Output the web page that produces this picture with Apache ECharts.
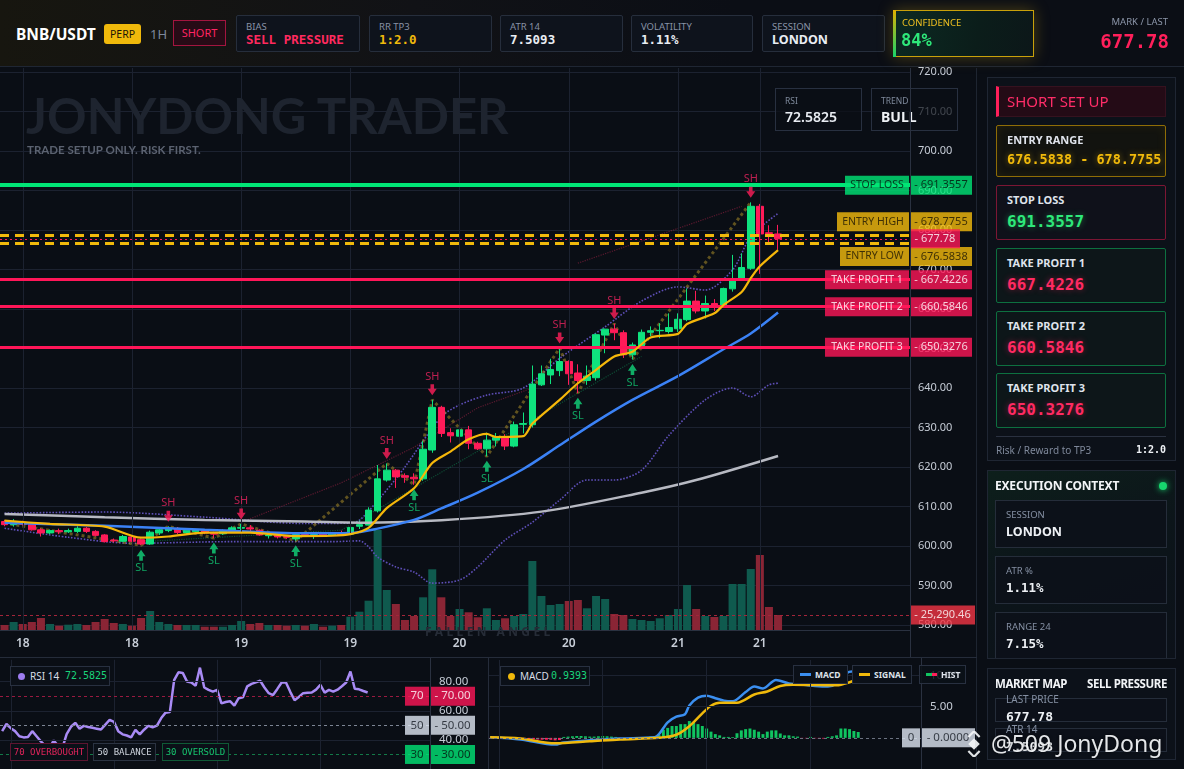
<!DOCTYPE html>
<html>
<head>
<meta charset="utf-8">
<title>BNB/USDT Short Setup</title>
<script src="https://cdn.jsdelivr.net/npm/echarts@6/dist/echarts.min.js"></script>
<style>
*{box-sizing:border-box;}
html,body{margin:0;padding:0;width:1184px;height:769px;overflow:hidden;background:#0a0e15;font-family:'Noto Sans',sans-serif;}
#chart{position:absolute;left:0;top:0;width:1184px;height:769px;z-index:1;}
.o{position:absolute;z-index:3;white-space:nowrap;}
.mono{font-family:'DejaVu Sans Mono',monospace;}
.card{position:absolute;z-index:3;top:15px;height:37px;background:#0e131c;border:1px solid #262e3c;border-radius:2px;}
.card .lb{position:absolute;left:9px;top:4px;font-size:9.5px;line-height:13px;color:#8892a6;white-space:nowrap;}
.card .vl{position:absolute;left:9px;top:16px;font-size:12.5px;line-height:16px;font-weight:bold;font-family:'DejaVu Sans Mono',monospace;color:#e9edf3;white-space:nowrap;}
.pcard{position:absolute;z-index:3;left:996px;width:170px;border:1px solid;border-radius:2px;}
.pcard .lb{position:absolute;left:10px;top:6px;font-size:11px;font-weight:bold;color:#dfe3eb;line-height:15px;white-space:nowrap;}
.pcard .vl{position:absolute;left:10px;font-family:'DejaVu Sans Mono',monospace;font-weight:bold;white-space:nowrap;}
.sub{position:absolute;z-index:3;left:995px;width:172px;border:1px solid #252d3a;background:rgba(12,17,25,0.9);}
.sub .lb{position:absolute;left:10px;top:7px;font-size:9.5px;color:#8590a3;line-height:13px;white-space:nowrap;}
.sub .vl{position:absolute;left:10px;top:22px;font-size:12.5px;font-weight:bold;color:#eef1f5;line-height:17px;white-space:nowrap;}
.lg{position:absolute;z-index:3;border:1px solid #283040;background:#0b1018;height:20px;}
.ln{position:absolute;z-index:3;background:#232a37;}
</style>
</head>
<body>
<div id="chart"></div>

<!-- top bar -->
<div class="o" style="left:0;top:0;width:1184px;height:67px;background:linear-gradient(90deg,#17160f 0%,#111216 35%,#0b0e15 62%,#0b0e15 100%);border-bottom:1px solid #1f2633;z-index:2;"></div>
<div class="o" style="left:16px;top:23px;font-size:15.5px;line-height:22px;font-weight:bold;color:#ffffff;">BNB/USDT</div>
<div class="o" style="left:104px;top:24px;width:37px;height:20px;background:#f0b90b;border-radius:3px;color:#1c1405;font-size:10.5px;line-height:20px;text-align:center;">PERP</div>
<div class="o" style="left:150px;top:24px;font-size:13px;line-height:20px;color:#7d889b;">1H</div>
<div class="o" style="left:173px;top:20px;width:53px;height:26px;border:1px solid #a3153f;background:#270b16;color:#ff2563;font-size:11px;line-height:24px;text-align:center;">SHORT</div>

<div class="card" style="left:236px;width:124px;"><div class="lb">BIAS</div><div class="vl" style="color:#ff2a5f;">SELL PRESSURE</div></div>
<div class="card" style="left:369px;width:123px;"><div class="lb">RR TP3</div><div class="vl" style="color:#f0b90b;">1:2.0</div></div>
<div class="card" style="left:500px;width:123px;"><div class="lb">ATR 14</div><div class="vl">7.5093</div></div>
<div class="card" style="left:631px;width:122px;"><div class="lb">VOLATILITY</div><div class="vl">1.11%</div></div>
<div class="card" style="left:762px;width:123px;"><div class="lb">SESSION</div><div class="vl" style="font-family:'Noto Sans',sans-serif;">LONDON</div></div>

<div class="o" style="left:893px;top:10px;width:141px;height:47px;border:1px solid #c9a10a;background:linear-gradient(100deg,#0c2a22 0%,#0b1d1a 60%,#0c1719 100%);box-shadow:0 0 14px rgba(200,160,20,0.35);"></div>
<div class="o" style="left:893px;top:10px;width:3px;height:47px;background:linear-gradient(180deg,#e0b000,#18d46a);"></div>
<div class="o" style="left:902px;top:16px;font-size:9.5px;line-height:13px;color:#f0c020;">CONFIDENCE</div>
<div class="o mono" style="left:901px;top:29px;font-size:17px;line-height:22px;font-weight:bold;color:#2ee87a;">84%</div>

<div class="o" style="right:16px;top:15px;font-size:9.5px;line-height:13px;color:#8b95a8;text-align:right;">MARK / LAST</div>
<div class="o mono" style="right:15px;top:29px;font-size:19px;line-height:24px;font-weight:bold;color:#ff1f5a;text-align:right;">677.78</div>

<!-- main overlays -->
<div class="o" style="left:26px;top:85px;font-family:Lato,sans-serif;font-weight:bold;font-size:49px;line-height:60px;color:#1e242f;z-index:2;">JONYDONG TRADER</div>
<div class="o" style="left:27px;top:142px;font-family:Lato,sans-serif;font-weight:bold;font-size:11.5px;line-height:16px;color:#5b6270;z-index:2;">TRADE SETUP ONLY. RISK FIRST.</div>

<div class="o" style="left:775px;top:88px;width:87px;height:43px;background:rgba(11,15,22,0.75);border:1px solid #283040;">
  <div style="position:absolute;left:9px;top:6px;font-size:8.5px;line-height:12px;color:#7f8a9c;">RSI</div>
  <div style="position:absolute;left:9px;top:18px;font-size:14px;line-height:20px;color:#e8ecf2;font-weight:600;">72.5825</div>
</div>
<div class="o" style="left:871px;top:88px;width:87px;height:43px;background:rgba(11,15,22,0.72);border:1px solid #283040;">
  <div style="position:absolute;left:9px;top:6px;font-size:8.5px;line-height:12px;color:#7f8a9c;">TREND</div>
  <div style="position:absolute;left:9px;top:18px;font-size:14px;line-height:20px;color:#eef1f5;font-weight:bold;">BULL</div>
</div>

<div class="o" style="left:425px;top:624px;font-size:12px;line-height:16px;font-weight:bold;letter-spacing:3.4px;color:#262c37;z-index:2;">FALLEN ANGEL</div>

<!-- separators -->
<div class="ln" style="left:910px;top:68px;width:1px;height:589px;background:#2a3140;"></div>
<div class="ln" style="left:976px;top:68px;width:1px;height:701px;background:#1e2531;"></div>
<div class="ln" style="left:0;top:657px;width:977px;height:1px;background:#252c3a;"></div>
<div class="ln" style="left:488px;top:657px;width:1px;height:112px;background:#252c3a;"></div>
<div class="ln" style="left:430px;top:658px;width:1px;height:111px;background:#2a3140;"></div>
<div class="ln" style="left:921px;top:658px;width:1px;height:111px;background:#2a3140;"></div>

<!-- RSI legends -->
<div class="lg" style="left:10px;top:666px;width:100px;">
  <div style="position:absolute;left:7px;top:6px;width:7px;height:7px;border-radius:50%;background:#9d7cf0;"></div>
  <div style="position:absolute;left:19px;top:2px;font-size:10px;line-height:14px;color:#d8dde6;">RSI 14</div>
  <div class="mono" style="position:absolute;left:54px;top:2px;font-size:10px;line-height:14px;color:#19d37a;">72.5825</div>
</div>
<div class="lg mono" style="left:10px;top:743px;width:78px;height:18px;border-color:#5c1530;font-size:9px;line-height:16px;color:#e0245a;text-align:center;">70 OVERBOUGHT</div>
<div class="lg mono" style="left:93px;top:743px;width:63px;height:18px;border-color:#2b3342;font-size:9px;line-height:16px;color:#cfd5de;text-align:center;">50 BALANCE</div>
<div class="lg mono" style="left:162px;top:743px;width:67px;height:18px;border-color:#0f5a36;font-size:9px;line-height:16px;color:#16c46e;text-align:center;">30 OVERSOLD</div>

<!-- MACD legends -->
<div class="lg" style="left:500px;top:666px;width:90px;">
  <div style="position:absolute;left:7px;top:6px;width:7px;height:7px;border-radius:50%;background:#f0b90b;"></div>
  <div style="position:absolute;left:19px;top:2px;font-size:10px;line-height:14px;color:#d8dde6;">MACD</div>
  <div class="mono" style="position:absolute;left:50px;top:2px;font-size:10px;line-height:14px;color:#19d37a;">0.9393</div>
</div>
<div class="lg" style="left:793px;top:665px;width:55px;height:19px;">
  <div style="position:absolute;left:6px;top:7px;width:11px;height:3px;background:#3b8ff0;"></div>
  <div style="position:absolute;left:21px;top:2px;font-size:8.5px;line-height:13px;font-weight:bold;color:#dfe4ec;">MACD</div>
</div>
<div class="lg" style="left:852px;top:665px;width:60px;height:19px;">
  <div style="position:absolute;left:6px;top:7px;width:11px;height:3px;background:#f0b90b;"></div>
  <div style="position:absolute;left:21px;top:2px;font-size:8.5px;line-height:13px;font-weight:bold;color:#dfe4ec;">SIGNAL</div>
</div>
<div class="lg" style="left:919px;top:665px;width:47px;height:19px;background:rgba(11,16,24,0.85);">
  <div style="position:absolute;left:6px;top:7px;width:6px;height:3px;background:#10c460;"></div>
  <div style="position:absolute;left:12px;top:7px;width:5px;height:3px;background:#ff1f5a;"></div>
  <div style="position:absolute;left:21px;top:2px;font-size:8.5px;line-height:13px;font-weight:bold;color:#dfe4ec;">HIST</div>
</div>

<!-- right panel: short set up -->
<div class="o" style="left:987px;top:77px;width:189px;height:384px;border:1px solid #1f2633;background:#0c1119;z-index:2;"></div>
<div class="o" style="left:996px;top:86px;width:170px;height:31px;background:#240b16;border:1px solid #36121f;border-left:3px solid #ff1f5a;"></div>
<div class="o" style="left:1007px;top:90px;font-size:15px;line-height:22px;color:#ff2d68;">SHORT SET UP</div>

<div class="pcard" style="top:125px;height:52px;border-color:#8f6d06;background:#12130f;box-shadow:inset 0 0 10px rgba(240,185,11,0.08);">
  <div class="lb">ENTRY RANGE</div>
  <div class="vl" style="top:24px;font-size:13.5px;line-height:18px;color:#f0b90b;text-shadow:0 0 6px rgba(240,185,11,0.45);">676.5838 - 678.7755</div>
</div>
<div class="pcard" style="top:185px;height:55px;border-color:#7c1634;background:#0f111a;">
  <div class="lb">STOP LOSS</div>
  <div class="vl" style="top:26px;font-size:16px;line-height:20px;color:#2ee87a;text-shadow:0 0 6px rgba(46,232,122,0.45);">691.3557</div>
</div>
<div class="pcard" style="top:248px;height:55px;border-color:#0d7040;background:#0d1619;">
  <div class="lb">TAKE PROFIT 1</div>
  <div class="vl" style="top:26px;font-size:16px;line-height:20px;color:#ff2a62;text-shadow:0 0 6px rgba(255,30,90,0.45);">667.4226</div>
</div>
<div class="pcard" style="top:311px;height:55px;border-color:#0d7040;background:#0d1619;">
  <div class="lb">TAKE PROFIT 2</div>
  <div class="vl" style="top:26px;font-size:16px;line-height:20px;color:#ff2a62;text-shadow:0 0 6px rgba(255,30,90,0.45);">660.5846</div>
</div>
<div class="pcard" style="top:373px;height:55px;border-color:#0d7040;background:#0d1619;">
  <div class="lb">TAKE PROFIT 3</div>
  <div class="vl" style="top:26px;font-size:16px;line-height:20px;color:#ff2a62;text-shadow:0 0 6px rgba(255,30,90,0.45);">650.3276</div>
</div>
<div class="o" style="left:996px;top:436px;width:170px;height:1px;background:#2a3140;"></div>
<div class="o" style="left:996px;top:443px;font-size:10px;line-height:14px;color:#7f899b;">Risk / Reward to TP3</div>
<div class="o mono" style="right:18px;top:443px;font-size:10px;line-height:14px;font-weight:bold;color:#eef1f5;">1:2.0</div>

<!-- execution context -->
<div class="o" style="left:987px;top:470px;width:189px;height:189px;border:1px solid #1f2633;background:linear-gradient(160deg,#0d1f1b 0%,#0c151a 45%,#0c1119 100%);z-index:2;overflow:hidden;"></div>
<div class="o" style="left:995px;top:477px;font-size:12px;line-height:18px;font-weight:bold;color:#f2f4f7;letter-spacing:-0.2px;">EXECUTION CONTEXT</div>
<div class="o" style="left:1159px;top:482px;width:8px;height:8px;border-radius:50%;background:#17d66e;box-shadow:0 0 6px #17d66e;"></div>
<div class="sub" style="top:500px;height:48px;"><div class="lb">SESSION</div><div class="vl">LONDON</div></div>
<div class="sub" style="top:556px;height:48px;"><div class="lb">ATR %</div><div class="vl mono">1.11%</div></div>
<div class="sub" style="top:612px;height:46px;border-bottom:none;"><div class="lb">RANGE 24</div><div class="vl mono">7.15%</div></div>

<!-- market map -->
<div class="o" style="left:987px;top:668px;width:189px;height:92px;border:1px solid #1f2633;background:#0c1119;z-index:2;"></div>
<div class="o" style="left:995px;top:675px;font-size:11.5px;line-height:18px;font-weight:bold;color:#f2f4f7;letter-spacing:-0.4px;">MARKET MAP</div>
<div class="o" style="right:17px;top:675px;font-size:11.5px;line-height:18px;font-weight:bold;color:#f2f4f7;letter-spacing:-0.4px;">SELL PRESSURE</div>
<div class="sub" style="top:698px;height:24px;"><div class="lb" style="top:-6px;font-size:10px;">LAST PRICE</div><div class="vl mono" style="top:9px;font-size:13px;line-height:17px;">677.78</div></div>
<div class="sub" style="top:728px;height:24px;"><div class="lb" style="top:-6px;font-size:10px;">ATR 14</div><div class="vl mono" style="top:9px;font-size:13px;line-height:17px;">7.5093</div></div>

<!-- watermark -->
<svg class="o" style="left:961px;top:731px;z-index:4;" width="26" height="26" viewBox="0 0 26 26">
  <g fill="none" stroke="#f4f6f8" stroke-width="2.2" opacity="0.92" transform="rotate(45 13 13)">
    <rect x="10" y="10" width="6" height="6" fill="#f4f6f8"/>
    <path d="M4 12 V4 H12"/>
    <path d="M22 14 V22 H14"/>
  </g>
</svg>
<div class="o" style="left:991px;top:727px;font-size:23px;line-height:32px;color:rgba(245,247,250,0.93);text-shadow:0 0 3px rgba(0,0,0,0.7);z-index:4;">@509 JonyDong</div>

<script>
// ---------------- data ----------------
const opens = [606.2,605.4,606.0,605.5,604.1,603.3,603.9,603.6,603.7,604.5,
 603.7,602.8,601.5,601.2,602.3,601.6,600.5,603.3,603.9,604.4,
 603.3,603.6,603.9,603.3,603.1,603.9,604.5,604.6,604.0,602.6,
 602.7,602.4,601.8,602.9,602.6,603.0,602.7,603.3,603.0,605.0,
 605.3,608.9,616.7,619.2,617.8,617.4,617.0,624.3,635.1,628.7,
 627.8,629.4,626.0,624.6,626.8,627.6,625.3,630.8,630.7,640.8,
 643.3,644.4,646.7,643.8,641.9,642.6,653.4,654.9,654.0,648.4,
 650.5,654.1,654.5,654.3,655.0,657.3,662.0,659.5,661.4,660.8,
 665.1,667.3,670.3,686.0,679.3,679.0];
const highs = [606.6,606.8,606.4,605.8,604.5,604.2,604.4,604.4,605.0,604.8,
 604.0,603.0,601.9,602.8,602.6,601.9,603.9,604.4,605.0,604.8,
 604.0,604.3,604.1,603.6,604.2,605.0,605.6,605.3,604.2,603.4,
 602.9,602.7,603.0,603.3,603.6,603.3,603.4,603.9,605.0,606.4,
 609.8,620.5,620.9,619.5,618.4,618.4,626.6,637.0,635.5,629.8,
 630.7,630.4,626.4,628.7,628.6,628.3,631.5,633.8,645.7,645.7,
 647.4,650.1,647.0,646.0,645.7,653.8,655.0,656.3,654.6,651.5,
 654.8,655.6,656.4,658.9,658.9,665.2,664.6,663.4,662.5,665.4,
 673.7,674.1,687.0,686.6,681.2,681.3];
const lows = [605.0,604.9,605.2,603.9,602.4,603.0,603.0,603.3,603.3,603.3,
 602.4,600.9,600.9,601.0,601.0,600.2,600.3,602.8,603.5,603.0,
 602.8,603.2,603.0,602.0,602.8,603.6,603.4,603.3,602.6,601.9,
 601.9,601.8,601.3,602.3,601.8,602.6,602.5,602.6,602.8,604.3,
 605.2,608.5,616.3,614.7,616.0,615.5,616.5,623.6,627.6,626.2,
 627.2,624.5,624.3,622.7,625.2,624.3,625.0,628.5,630.0,640.5,
 641.0,643.0,640.8,638.7,640.8,641.9,648.8,652.1,647.6,647.2,
 650.0,653.1,652.6,653.8,654.2,656.9,658.9,657.6,659.5,660.6,
 664.4,667.1,669.9,668.9,676.2,675.0];
const closes = [605.4,606.0,605.5,604.1,603.3,603.9,603.6,603.9,604.5,603.7,
 602.7,601.1,601.3,602.4,601.2,600.5,603.5,604.1,604.6,603.4,
 604.0,604.1,603.3,603.0,603.9,604.6,604.7,604.3,602.8,602.8,
 602.3,602.2,602.9,602.6,602.9,602.8,603.0,602.9,604.7,605.4,
 609.1,617.0,619.2,617.5,617.4,617.0,624.5,635.1,628.5,627.9,
 629.4,626.0,624.6,626.8,627.5,625.3,630.7,631.0,641.0,643.6,
 644.7,646.7,643.6,641.9,643.0,653.5,654.9,654.0,648.4,650.9,
 654.1,654.5,654.6,655.3,657.4,662.0,659.5,661.4,660.4,665.2,
 667.6,670.5,686.0,679.0,679.1,677.78];
const volumes = [8430,13490,10120,13490,20230,10120,7250,8940,10120,8430,
 13490,18550,11800,10120,7250,20230,32030,13490,10120,8430,
 8430,8430,5560,5560,5560,8430,15170,10120,11800,8430,
 8430,7250,8430,7250,10120,5560,7250,8430,22420,30850,
 49400,168600,67440,43840,16860,23600,55130,102340,55130,23600,
 35410,29840,21410,36590,16860,19730,23600,26980,116330,57320,
 42150,43840,48890,50580,36590,57320,52270,26980,25290,18550,
 16860,15170,19730,25290,35410,75870,35410,23600,21920,23600,
 77560,77560,102850,126450,38780,25290.46];
const rsi14 = [46.0,50.9,48.0,46.0,42.5,41.7,42.0,46.0,42.5,39.0,
 36.0,34.3,39.6,36.0,34.3,44.0,49.0,51.7,47.7,49.6,
 48.8,48.3,47.7,47.1,50.5,53.8,52.4,46.0,43.8,43.0,
 41.7,46.9,43.8,47.0,49.6,48.7,49.8,55.0,58.7,59.1,
 81.0,86.4,86.0,80.0,79.4,77.2,89.6,76.0,74.3,73.1,
 74.3,65.1,66.0,66.6,63.6,68.6,69.2,76.8,78.5,79.5,
 80.6,76.0,72.1,70.8,75.0,79.4,79.4,73.0,67.2,69.5,
 72.1,72.3,72.5,74.5,77.8,72.5,74.3,73.1,74.5,76.8,
 79.4,87.0,75.1,74.7,73.6,72.58];
const macdHist = [-0.05,-0.08,-0.1,-0.12,-0.15,-0.15,-0.18,-0.2,-0.2,-0.22,
 -0.25,-0.28,-0.3,-0.3,-0.32,-0.4,-0.35,0.15,0.2,0.25,
 0.3,0.3,0.25,0.2,0.2,0.25,0.3,0.25,0.2,0.15,
 -0.05,-0.06,-0.08,-0.05,0.1,0.12,0.15,0.2,0.25,0.45,
 1.3,1.6,1.9,1.9,2.2,2.2,2.7,2.5,2.2,1.9,
 1.5,1.0,0.6,0.4,0.15,0.15,0.12,0.74,1.2,1.4,
 1.5,1.3,1.0,0.6,1.0,1.2,1.2,0.7,0.4,0.4,
 0.25,0.2,-0.05,-0.07,0.15,-0.07,-0.15,-0.12,0.15,0.25,
 0.4,1.5,1.5,1.4,1.1,0.9393];
const macdLine = [[0,0.1],[7,-0.25],[15,-1.08],[17,-0.74],[23,-0.4],[30,-0.1],[38,0.1],[39,0.6],[41,2.5],[43,3.4],[45,3.8],[46,5.2],[48,6.47],[50,6.76],[52,6.37],[54,5.98],[56,5.88],[59,7.35],[61,8.24],[63,7.94],[66,9.3],[69,8.73],[73,8.48],[75,8.33],[78,8.24],[80,8.73],[82,10.3],[84,10.7],[85,10.5]];
const signalLine = [[0,0.1],[7,-0.1],[15,-0.88],[23,-0.56],[30,-0.25],[39,0.0],[43,0.5],[46,1.86],[49,3.92],[51,5.15],[53,5.64],[57,5.64],[61,6.96],[64,7.45],[67,8.33],[70,8.53],[76,8.48],[80,8.43],[83,8.92],[85,9.5]];
const emaFast = [[0,606.4],[5,605.6],[11,604.9],[15,602.1],[18,602.4],[22,603.4],[27,603.4],[32,602.5],[36,602.6],[38,603.0],[40,604.6],[42,609.6],[45,614.6],[47,621.0],[49,623.9],[51,627.0],[53,628.4],[54,627.6],[57,627.8],[58,631.0],[61,637.0],[63,641.2],[65,644.6],[67,648.0],[69,649.2],[71,652.8],[74,653.7],[75,656.2],[78,658.9],[79,661.0],[81,664.3],[82,667.8],[83,670.8],[85,674.9]];
const emaMid = [[0,605.9],[11,605.1],[22,604.1],[33,603.2],[38,603.3],[41,604.4],[45,606.6],[48,609.5],[52,613.5],[57,619.5],[61,625.5],[65,631.5],[69,637.0],[74,643.0],[79,649.8],[82,653.8],[85,659.1]];
const ema200 = [[0,608.1],[11,607.3],[22,606.6],[33,606.2],[40,605.9],[48,606.5],[59,608.7],[70,613.5],[76,616.7],[85,622.8]];
const bbUpper = [[0,608.3],[11,608.6],[22,607.3],[33,605.7],[38,605.8],[39,606.5],[41,611.5],[43,617.0],[44,620.0],[48,632.7],[50,635.7],[53,638.2],[57,640.0],[61,647.5],[66,655.5],[70,662.0],[74,665.6],[77,664.8],[80,669.9],[82,678.3],[85,684.2]];
const bbLower = [[0,604.5],[7,602.2],[14,600.7],[25,601.1],[36,601.1],[39,601.3],[40,599.8],[41,597.2],[43,594.7],[45,593.4],[47,590.6],[50,591.4],[52,594.7],[55,601.5],[58,606.0],[61,611.6],[64,616.7],[67,616.7],[70,619.2],[73,628.0],[77,637.0],[80,640.0],[82,637.8],[84,640.8],[85,641.2]];
const zigzag = [[0,605.8],[15,600.2],[18,605.0],[23,602.0],[26,605.6],[32,601.3],[42,620.9],[45,615.5],[47,637.0],[53,622.7],[61,650.1],[63,638.7],[67,656.3],[69,647.2],[82,687.0]];
const channelHighA = [[26,606.0],[37,616.0],[45,625.0],[52,635.0],[58,640.0]];
const channelHighB = [[63,671.6],[81,686.0]];
const channelLow = [[16,601.2],[37,604.0],[70,648.0]];
const swingHighIdx = [18,26,42,47,61,67,82];
const swingLowIdx = [15,23,32,45,53,63,69];
const xTickIdx = [2,14,26,38,50,62,74,83];
const xTickText = ['18','18','19','19','20','20','21','21'];
const subGridIdx = [2,26,50,74];
const stopLoss = 691.3557, entryHigh = 678.7755, entryLow = 676.5838;
const tp1 = 667.4226, tp2 = 660.5846, tp3 = 650.3276;
const lastPrice = 677.78, lastVolume = 25290.46;
const rsiGridVals = [40,60,80];
const macdGridVals = [5,10];

// ---------------- chart ----------------
const SLOTS = 100;
const categories = [];
for (let i = 0; i < SLOTS; i++) {
  const h = i - 2 + 18 * 24;
  categories.push(Math.floor(h / 24) + ' ' + String(h % 24).padStart(2, '0') + ':00');
}
const GRIDC = '#1c2230';
const UP = '#0fe27e', DN = '#ff1b58';
const FONT = 'Noto Sans';

const tagFont = {fontFamily: FONT, fontSize: 11, height: 19, lineHeight: 19, align: 'center'};
function tok(bg, fg, w, fs) { return Object.assign({}, tagFont, {backgroundColor: bg, color: fg, width: w}, fs ? {fontSize: fs} : {}); }

const catAxis = (g) => ({type: 'category', gridIndex: g, data: categories, boundaryGap: true,
  axisLine: {show: false}, axisTick: {show: false}, axisLabel: {show: false}, splitLine: {show: false}});
const unitAxis = (g) => ({type: 'value', gridIndex: g, min: 0, max: 1, show: false});

const candleData = opens.map((o, i) => [o, closes[i], lows[i], highs[i]]);
const volData = volumes.map((v, i) => ({value: v, itemStyle: {color: closes[i] >= opens[i] ? '#0f5a4e' : '#8a2535'}}));
const histData = macdHist.map(v => ({value: v, itemStyle: {color: v >= 0 ? '#10c460' : '#ff1f5a'}}));

const downArrow = 'path://M3,0 L7,0 L7,4 L10,4 L5,10 L0,4 L3,4 Z';
const upArrow = 'path://M5,0 L10,6 L7,6 L7,10 L3,10 L3,6 L0,6 Z';

function lineSeries(data, xi, yi, style, smooth, z) {
  return {type: 'line', xAxisIndex: xi, yAxisIndex: yi, data: data, symbol: 'none', silent: true,
    smooth: smooth, lineStyle: style, z: z || 4};
}
function helper(xi, yi, y0, lines, z) {
  return {type: 'line', xAxisIndex: xi, yAxisIndex: yi, data: [[0, y0]], symbol: 'none', silent: true,
    lineStyle: {opacity: 0}, z: z || 0,
    markLine: {symbol: ['none', 'none'], silent: true, animation: false, label: {show: false}, data: lines}};
}
function tagSeries(xi, yi, data, rich) {
  return {type: 'scatter', xAxisIndex: xi, yAxisIndex: yi, symbol: 'rect', symbolSize: 1, clip: false, silent: true,
    itemStyle: {color: 'rgba(0,0,0,0)'}, z: 10, zlevel: 1,
    label: {show: true, position: 'inside', textBorderWidth: 0, rich: rich}, data: data};
}

const option = {
  animation: false,
  backgroundColor: 'transparent',
  grid: [
    {left: 0, right: 274, top: 68, bottom: 139},
    {left: 0, right: 274, top: 72, bottom: 144},
    {left: 0, right: 274, top: 510, bottom: 139},
    {left: 0, width: 430, top: 659.8, height: 117.6},
    {left: 488, width: 433, top: 660, height: 119}
  ],
  xAxis: [
    {type: 'category', gridIndex: 0, data: categories, boundaryGap: true,
      axisLine: {show: true, lineStyle: {color: '#2a3140'}}, axisTick: {show: false}, splitLine: {show: false},
      axisLabel: {show: true, color: '#c8ced8', fontSize: 12, fontWeight: 600, fontFamily: FONT, margin: 8,
        interval: (idx) => xTickIdx.indexOf(idx) >= 0,
        formatter: (v, idx) => { const k = xTickIdx.indexOf(idx); return k >= 0 ? xTickText[k] : ''; }}},
    catAxis(1), unitAxis(1),
    catAxis(2), unitAxis(2),
    catAxis(3), unitAxis(3),
    catAxis(4), unitAxis(4)
  ],
  yAxis: [
    {type: 'value', gridIndex: 0, min: 0, max: 1, show: false},
    {type: 'value', gridIndex: 1, position: 'right', min: 580, max: 720, interval: 10,
      axisLine: {show: false}, axisTick: {show: false},
      axisLabel: {color: '#c6ccd6', fontSize: 11, fontFamily: FONT, margin: 8, formatter: v => v.toFixed(2)},
      splitLine: {show: true, lineStyle: {color: GRIDC, width: 1}}},
    {type: 'value', gridIndex: 2, min: 0, max: 202300, show: false},
    {type: 'value', gridIndex: 3, position: 'right', min: 20, max: 95, interval: 10,
      axisLine: {show: false}, axisTick: {show: false}, splitLine: {show: false},
      axisLabel: {color: '#c6ccd6', fontSize: 11.5, fontFamily: FONT, margin: 9, showMaxLabel: false,
        formatter: v => rsiGridVals.indexOf(v) >= 0 ? v.toFixed(2) : ''}},
    {type: 'value', gridIndex: 4, position: 'right', min: -5, max: 12.5, interval: 5,
      axisLine: {show: false}, axisTick: {show: false}, splitLine: {show: false},
      axisLabel: {color: '#c6ccd6', fontSize: 11.5, fontFamily: FONT, margin: 9, showMaxLabel: false,
        formatter: v => macdGridVals.indexOf(v) >= 0 ? v.toFixed(2) : ''}}
  ],
  series: [
    helper(0, 0, 0, xTickIdx.map(i => ({xAxis: i, lineStyle: {color: GRIDC, width: 1, type: 'solid'}})), 0),
    {type: 'bar', xAxisIndex: 3, yAxisIndex: 2, data: volData, barWidth: '88%', silent: true, z: 2,
      markLine: {symbol: ['none', 'none'], silent: true, animation: false, label: {show: false},
        data: [{yAxis: lastVolume, lineStyle: {color: '#a3253a', width: 1, type: [3, 3]}}]}},
    helper(1, 1, 600, [
      {yAxis: stopLoss, lineStyle: {color: '#00e676', width: 4, type: 'solid'}},
      {yAxis: entryHigh, lineStyle: {color: '#f0b90b', width: 3, type: [9, 6]}},
      {yAxis: entryLow, lineStyle: {color: '#f0b90b', width: 3, type: [9, 6]}},
      {yAxis: lastPrice, lineStyle: {color: '#ff1658', width: 1, type: [2, 3]}},
      {yAxis: tp1, lineStyle: {color: '#ff1658', width: 3, type: 'solid'}},
      {yAxis: tp2, lineStyle: {color: '#ff1658', width: 3, type: 'solid'}},
      {yAxis: tp3, lineStyle: {color: '#ff1658', width: 3, type: 'solid'}}
    ], 1),
    {type: 'candlestick', xAxisIndex: 1, yAxisIndex: 1, data: candleData, barWidth: '78%', silent: true, z: 3,
      itemStyle: {color: UP, color0: DN, borderColor: UP, borderColor0: DN, borderWidth: 1}},
    lineSeries(channelHighA, 1, 1, {color: 'rgba(190,40,80,0.45)', width: 1.2, type: 'dotted'}, false, 2),
    lineSeries(channelHighB, 1, 1, {color: 'rgba(190,40,80,0.45)', width: 1.2, type: 'dotted'}, false, 2),
    lineSeries(channelLow, 1, 1, {color: 'rgba(20,190,110,0.35)', width: 1.2, type: 'dotted'}, false, 2),
    lineSeries(bbUpper, 1, 1, {color: '#5e4fb8', width: 1.6, type: 'dotted'}, 0.3, 2),
    lineSeries(bbLower, 1, 1, {color: '#5e4fb8', width: 1.6, type: 'dotted'}, 0.3, 2),
    lineSeries(zigzag, 1, 1, {color: 'rgba(170,140,40,0.55)', width: 3, type: 'dotted'}, false, 2),
    lineSeries(ema200, 1, 1, {color: '#b7b9c2', width: 2.5}, 0.3, 4),
    lineSeries(emaMid, 1, 1, {color: '#3b82f6', width: 2.5}, 0.3, 4),
    lineSeries(emaFast, 1, 1, {color: '#f5b70a', width: 2.2}, 0.25, 5),
    {type: 'scatter', xAxisIndex: 1, yAxisIndex: 1, silent: true, clip: false, z: 6,
      data: swingHighIdx.map(i => [i, highs[i]]), symbol: downArrow, symbolSize: [9, 11], symbolOffset: [0, -10],
      itemStyle: {color: '#ff1f5a'},
      label: {show: true, position: 'top', distance: 2, formatter: 'SH', color: '#e8245f', fontSize: 11, fontFamily: FONT}},
    {type: 'scatter', xAxisIndex: 1, yAxisIndex: 1, silent: true, clip: false, z: 6,
      data: swingLowIdx.map(i => [i, lows[i]]), symbol: upArrow, symbolSize: [9, 11], symbolOffset: [0, 10],
      itemStyle: {color: '#12d67a'},
      label: {show: true, position: 'bottom', distance: 2, formatter: 'SL', color: '#12c873', fontSize: 11, fontFamily: FONT}},
    tagSeries(2, 1, [
      {value: [1, stopLoss], label: {formatter: '{sln|STOP LOSS}{g|}{slv|- ' + stopLoss.toFixed(4) + '}', offset: [-1.5, 0]}},
      {value: [1, entryHigh], label: {formatter: '{ehn|ENTRY HIGH}{g|}{ev|- ' + entryHigh.toFixed(4) + '}', offset: [-5.5, -13]}},
      {value: [1, entryLow], label: {formatter: '{eln|ENTRY LOW}{g|}{ev|- ' + entryLow.toFixed(4) + '}', offset: [-4, 13]}},
      {value: [1, lastPrice], label: {formatter: '{lp|- ' + lastPrice.toFixed(2) + '}', offset: [25, 0]}},
      {value: [1, tp1], label: {formatter: '{tpn|TAKE PROFIT 1}{g|}{tpv|- ' + tp1.toFixed(4) + '}', offset: [-11.5, 0]}},
      {value: [1, tp2], label: {formatter: '{tpn|TAKE PROFIT 2}{g|}{tpv|- ' + tp2.toFixed(4) + '}', offset: [-11.5, 0]}},
      {value: [1, tp3], label: {formatter: '{tpn|TAKE PROFIT 3}{g|}{tpv|- ' + tp3.toFixed(4) + '}', offset: [-11.5, 0]}}
    ], {
      sln: tok('#00e676', '#05140c', 64, 10.5), slv: tok('#00e676', '#05140c', 62),
      ehn: tok('#f5bd0c', '#1b1404', 72, 10.5), eln: tok('#f5bd0c', '#1b1404', 69, 10.5), ev: tok('#f5bd0c', '#1b1404', 62),
      tpn: tok('#ff1658', '#ffffff', 84, 10.5), tpv: tok('#ff1658', '#ffffff', 62),
      lp: tok('#ff1658', '#ffffff', 50), g: {width: 1, height: 19}
    }),
    tagSeries(4, 2, [
      {value: [1, lastVolume], label: {formatter: '{vt|- ' + lastVolume.toLocaleString('en-US', {minimumFractionDigits: 2}) + '}', offset: [32.5, 0]}}
    ], {vt: tok('#f23645', '#ffffff', 65)}),

    helper(5, 3, 50, subGridIdx.map(i => ({xAxis: i, lineStyle: {color: GRIDC, width: 1, type: 'solid'}}))
      .concat(rsiGridVals.map(v => ({yAxis: v, lineStyle: {color: GRIDC, width: 1, type: 'solid'}})))
      .concat([
        {yAxis: 70, lineStyle: {color: '#9a1a40', width: 1, type: [3, 3]}},
        {yAxis: 50, lineStyle: {color: '#7d8594', width: 1, type: [3, 3]}},
        {yAxis: 30, lineStyle: {color: '#137a48', width: 1, type: [3, 3]}}
      ]), 0),
    lineSeries(rsi14, 5, 3, {color: '#a98bf5', width: 2.5}, false, 3),
    tagSeries(6, 3, [
      {value: [1, 70], label: {formatter: '{a|70}{g|}{b|- 70.00}', offset: [10, 0]}},
      {value: [1, 50], label: {formatter: '{c|50}{g|}{d|- 50.00}', offset: [10, 0]}},
      {value: [1, 30], label: {formatter: '{e|30}{g|}{f|- 30.00}', offset: [10, 0]}}
    ], {
      a: tok('#ff1658', '#ffffff', 24, 11.5), b: tok('#ff1658', '#ffffff', 45, 11.5),
      c: tok('#dfe7f3', '#141922', 24, 11.5), d: tok('#dfe7f3', '#141922', 45, 11.5),
      e: tok('#00e676', '#05140c', 24, 11.5), f: tok('#00e676', '#05140c', 45, 11.5),
      g: {width: 1, height: 19}
    }),

    helper(7, 4, 0, subGridIdx.map(i => ({xAxis: i, lineStyle: {color: GRIDC, width: 1, type: 'solid'}}))
      .concat(macdGridVals.map(v => ({yAxis: v, lineStyle: {color: GRIDC, width: 1, type: 'solid'}})))
      .concat([{yAxis: 0, lineStyle: {color: '#6b7280', width: 1, type: [3, 3]}}]), 0),
    {type: 'bar', xAxisIndex: 7, yAxisIndex: 4, data: histData, barWidth: '68%', silent: true, z: 2},
    lineSeries(macdLine, 7, 4, {color: '#3b8ff0', width: 2.5}, 0.3, 3),
    lineSeries(signalLine, 7, 4, {color: '#f0b90b', width: 2.5}, 0.3, 4),
    tagSeries(8, 4, [
      {value: [1, 0], label: {formatter: '{a|0}{g|}{b|- 0.0000}', offset: [17.5, 0]}}
    ], {a: tok('#dfe7f3', '#141922', 18, 11.5), b: tok('#dfe7f3', '#141922', 54, 11.5), g: {width: 1, height: 19}})
  ]
};

const chart = echarts.init(document.getElementById('chart'), null, {renderer: 'canvas', width: 1184, height: 769});
chart.setOption(option);
</script>
</body>
</html>
